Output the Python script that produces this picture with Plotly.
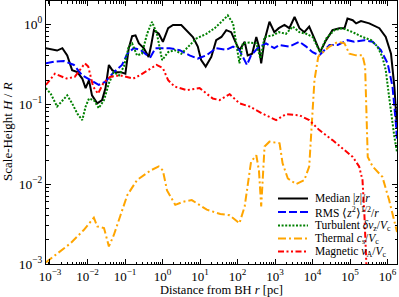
import numpy as np
import plotly.graph_objects as go

# ---- data (log10 of distance [pc] and log10 of H/R) ----
log_r_median = [-3.11,-2.94,-2.81,-2.67,-2.54,-2.41,-2.27,-2.14,-2.05,-1.96,-1.88,-1.74,-1.61,-1.52,-1.43,-1.34,-1.25,-1.12,-0.99,-0.90,-0.81,-0.72,-0.63,-0.50,-0.37,-0.31,-0.23,-0.10,0.01,0.15,0.28,0.50,0.68,0.81,0.94,1.03,1.15,1.30,1.43,1.57,1.70,1.83,1.96,2.05,2.19,2.27,2.39,2.50,2.57,2.63,2.72,2.85,2.98,3.10,3.25,3.38,3.52,3.65,3.78,3.91,4.05,4.20,4.36,4.53,4.71,4.85,4.93,5.07,5.16,5.29,5.51,5.78,5.95,6.09,6.18,6.25]
log_h_median = [-0.30,-0.32,-0.33,-0.30,-0.39,-0.575,-0.60,-0.68,-0.80,-0.70,-0.89,-0.99,-0.95,-0.80,-0.51,-0.575,-0.60,-0.60,-0.62,-0.30,-0.15,-0.14,-0.24,-0.30,-0.41,-0.28,-0.075,-0.12,-0.22,-0.05,-0.01,-0.01,-0.10,-0.16,-0.28,-0.45,-0.53,-0.41,-0.20,-0.16,-0.075,-0.10,-0.24,-0.325,-0.22,-0.39,-0.37,-0.16,-0.28,-0.49,-0.20,0.03,-0.10,-0.05,-0.01,-0.05,0.09,-0.05,-0.10,-0.03,-0.18,-0.35,-0.20,-0.075,-0.05,-0.05,0.07,0.05,0.01,0.04,0.01,-0.05,-0.16,-0.37,-0.78,-1.3]

log_r_rms = [-3.11,-2.89,-2.63,-2.36,-2.14,-1.92,-1.70,-1.52,-1.30,-1.08,-0.94,-0.77,-0.59,-0.41,-0.32,-0.19,0.05,0.19,0.46,0.72,0.94,1.17,1.43,1.70,1.88,2.05,2.25,2.36,2.54,2.76,2.98,3.12,3.38,3.65,3.83,4.00,4.18,4.45,4.67,4.93,5.11,5.38,5.60,5.82,6.00,6.13,6.22,6.25]
log_h_rms = [-0.49,-0.47,-0.46,-0.51,-0.64,-0.70,-0.76,-0.72,-0.60,-0.51,-0.37,-0.30,-0.32,-0.39,-0.41,-0.30,-0.30,-0.30,-0.325,-0.39,-0.43,-0.39,-0.30,-0.32,-0.28,-0.325,-0.51,-0.39,-0.30,-0.24,-0.30,-0.26,-0.28,-0.22,-0.28,-0.35,-0.39,-0.26,-0.26,-0.20,-0.22,-0.20,-0.22,-0.325,-0.49,-0.78,-1.24,-1.45]

log_r_turb = [-3.11,-2.98,-2.81,-2.67,-2.54,-2.41,-2.27,-2.14,-2.05,-1.96,-1.83,-1.70,-1.56,-1.43,-1.30,-1.16,-1.03,-0.90,-0.81,-0.68,-0.55,-0.41,-0.28,-0.15,-0.01,0.15,0.32,0.50,0.68,0.90,1.17,1.39,1.57,1.74,1.88,1.96,2.05,2.14,2.32,2.50,2.61,2.72,2.94,3.10,3.29,3.47,3.65,3.83,4.00,4.20,4.36,4.58,4.80,5.07,5.33,5.56,5.73,5.86,5.95,6.04,6.13,6.18,6.25]
log_h_turb = [-0.80,-0.87,-1.03,-0.95,-0.89,-0.99,-1.12,-1.20,-1.03,-0.93,-0.95,-1.05,-0.95,-0.74,-0.60,-0.64,-0.53,-0.28,-0.24,-0.39,-0.37,-0.12,0.03,-0.12,-0.45,-0.35,-0.325,-0.37,-0.28,-0.18,-0.12,-0.05,0.03,0.11,0.01,-0.24,-0.49,-0.24,-0.23,-0.24,-0.43,-0.16,-0.14,-0.10,-0.12,-0.03,-0.10,-0.12,-0.16,-0.35,-0.18,-0.075,-0.05,-0.10,-0.16,-0.20,-0.28,-0.41,-0.575,-0.91,-1.24,-1.41,-1.6]

log_r_therm = [-3.11,-2.81,-2.45,-2.10,-1.83,-1.74,-1.56,-1.43,-1.30,-1.12,-0.94,-0.68,-0.32,-0.10,0.01,0.12,0.34,0.56,0.78,1.18,1.54,1.79,2.05,2.19,2.36,2.50,2.57,2.63,2.72,2.85,3.12,3.20,3.34,3.56,3.78,3.91,3.96,4.05,4.15,4.18,4.45,4.67,4.85,4.98,5.16,5.33,5.40,5.47,5.60,5.86,6.04,6.18,6.25]
log_h_therm = [-2.98,-2.87,-2.74,-2.575,-2.42,-2.53,-2.55,-2.78,-2.64,-2.39,-2.14,-1.95,-1.83,-1.78,-1.83,-2.08,-2.26,-2.22,-2.20,-2.32,-2.375,-2.39,-2.49,-2.28,-1.72,-1.64,-1.83,-2.28,-1.53,-1.47,-1.49,-1.74,-1.93,-2.0,-1.95,-1.78,-1.33,-0.70,-0.41,-0.39,-0.28,-0.22,-0.24,-0.37,-0.39,-0.39,-0.53,-1.66,-1.78,-1.91,-2.2,-2.45,-2.6]

log_r_mag = [-3.11,-2.87,-2.56,-2.34,-2.07,-1.98,-1.85,-1.72,-1.58,-1.40,-1.14,-0.96,-0.78,-0.61,-0.39,-0.16,0.01,0.15,0.32,0.64,0.99,1.17,1.34,1.52,1.79,2.05,2.32,2.67,3.03,3.29,3.65,3.91,4.18,4.53,4.80,5.07,5.24,5.33,5.38,5.42,5.45]
log_h_mag = [-0.76,-0.62,-0.68,-0.66,-0.49,-0.53,-0.78,-0.87,-0.74,-0.66,-0.64,-0.66,-0.68,-0.64,-0.575,-0.51,-0.55,-0.70,-0.78,-0.825,-0.80,-0.87,-0.93,-0.95,-0.875,-0.99,-1.03,-1.12,-1.20,-1.125,-1.14,-1.20,-1.325,-1.45,-1.55,-1.66,-1.78,-1.95,-2.37,-2.95,-3.2]

x_tick_labels = ["10<sup>−3</sup>", "10<sup>−2</sup>", "10<sup>−1</sup>", "10<sup>0</sup>", "10<sup>1</sup>",
                 "10<sup>2</sup>", "10<sup>3</sup>", "10<sup>4</sup>", "10<sup>5</sup>", "10<sup>6</sup>"]
x_tick_exps = [-3, -2, -1, 0, 1, 2, 3, 4, 5, 6]
y_tick_labels = ["10<sup>−3</sup>", "10<sup>−2</sup>", "10<sup>−1</sup>", "10<sup>0</sup>"]
y_tick_exps = [-3, -2, -1, 0]

names = ["Median |<i>z</i>|/<i>r</i>",
         "RMS ⟨<i>z</i><sup>2</sup>⟩<sup>1/2</sup>/<i>r</i>",
         "Turbulent <i>δv</i><sub>z</sub>/<i>V</i><sub>c</sub>",
         "Thermal <i>c</i><sub>s</sub>/<i>V</i><sub>c</sub>",
         "Magnetic <i>v</i><sub>A</sub>/<i>V</i><sub>c</sub>"]

def to_lin(a):
    return 10 ** np.array(a)

series = [
    (log_r_median, log_h_median, "black", "solid"),
    (log_r_rms, log_h_rms, "#0000ff", "8px,3px"),
    (log_r_turb, log_h_turb, "#008000", "2px,1.6px"),
    (log_r_therm, log_h_therm, "#ffa500", "8px,3px,2px,3px"),
    (log_r_mag, log_h_mag, "#ff0000", "6px,2.5px,2px,2.5px,2px,2.5px"),
]

FONT = "Liberation Serif"
W, H = 399, 297
ML, MR, MT, MB = 46, 2, 1, 33
PW, PH = W - ML - MR, H - MT - MB

def px_x(p):
    return (p - ML) / PW

def px_y(p):
    return 1 - (p - MT) / PH

fig = go.Figure()
for (lr, lh, col, dash), nm in zip(series, names):
    fig.add_trace(go.Scatter(x=to_lin(lr), y=to_lin(lh), mode="lines", name=nm,
                             showlegend=False,
                             line=dict(color=col, width=2, dash=dash)))

# hand-drawn legend (compact row spacing like the reference)
legend_rows = [198.5, 212, 225.5, 238.5, 251.5]
for (lr, lh, col, dash), nm, ry in zip(series, names, legend_rows):
    fig.add_shape(type="line", xref="paper", yref="paper",
                  x0=px_x(278), x1=px_x(308), y0=px_y(ry), y1=px_y(ry),
                  line=dict(color=col, width=2, dash=dash))
    fig.add_annotation(xref="paper", yref="paper", x=px_x(313), y=px_y(ry),
                       xanchor="left", yanchor="middle", showarrow=False, text=nm,
                       font=dict(family=FONT, size=11.5, color="black"))

minor_x = [m * 10.0 ** e for e in range(-4, 7) for m in range(2, 10)]
minor_y = [m * 10.0 ** e for e in range(-3, 1) for m in range(2, 10)]

fig.update_xaxes(type="log", range=[-3.106, 6.25], automargin=False,
                 tickmode="array", tickvals=[10.0 ** e for e in x_tick_exps], ticktext=x_tick_labels,
                 ticks="inside", ticklen=5, tickcolor="black", mirror="allticks",
                 showline=True, linecolor="black", linewidth=1, showgrid=False, zeroline=False,
                 minor=dict(tickmode="array", tickvals=minor_x, ticks="inside", ticklen=2.5,
                            tickcolor="black", showgrid=False),
                 tickfont=dict(family=FONT, size=13, color="black"))
fig.update_yaxes(type="log", range=[-3.0, 0.29], automargin=False,
                 tickmode="array", tickvals=[10.0 ** e for e in y_tick_exps], ticktext=y_tick_labels,
                 ticks="inside", ticklen=5, tickcolor="black", mirror="allticks",
                 showline=True, linecolor="black", linewidth=1, showgrid=False, zeroline=False,
                 minor=dict(tickmode="array", tickvals=minor_y, ticks="inside", ticklen=2.5,
                            tickcolor="black", showgrid=False),
                 tickfont=dict(family=FONT, size=13.5, color="black"))

# axis titles
fig.add_annotation(xref="paper", yref="paper", x=px_x(221), y=px_y(290),
                   xanchor="center", yanchor="middle", showarrow=False,
                   text="Distance from BH <i>r</i> [pc]",
                   font=dict(family=FONT, size=12.5, color="black"))
fig.add_annotation(xref="paper", yref="paper", x=px_x(8), y=px_y(132),
                   xanchor="center", yanchor="middle", showarrow=False, textangle=-90,
                   text="Scale-Height <i>H</i> / <i>R</i>",
                   font=dict(family=FONT, size=13, color="black"))

fig.update_layout(
    width=W, height=H,
    margin=dict(l=ML, r=MR, t=MT, b=MB),
    paper_bgcolor="white", plot_bgcolor="white",
    font=dict(family=FONT, color="black"),
    showlegend=False,
)

fig.write_html("out.html", config={"displayModeBar": False},
               post_script="document.body.style.margin='0';document.body.style.padding='0';")
